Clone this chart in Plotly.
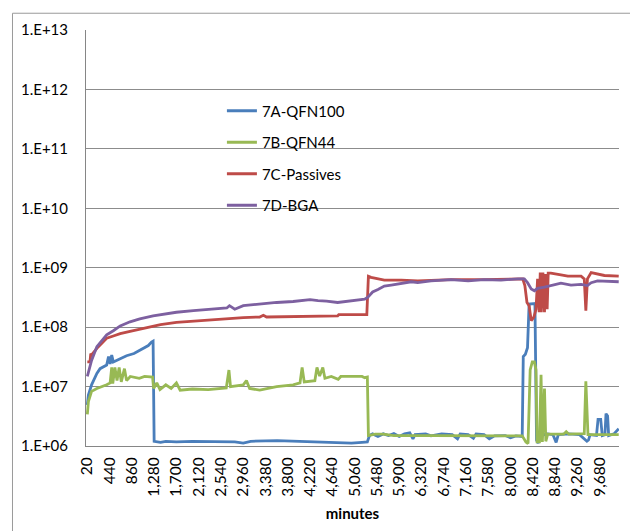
import plotly.graph_objects as go

# ---------------- data ----------------
min_a = [20, 40, 100, 200, 260, 385, 420, 450, 480, 510, 640, 760, 900, 1010, 1100, 1170, 1230, 1260,
         1280, 1400, 1500, 1700, 2000, 2400, 2800, 2960, 3100, 3600, 4000, 4400, 4700, 5000, 5200, 5300,
         5340, 5400, 5500, 5600, 5700, 5800, 5900, 6000, 6100, 6160, 6200, 6400, 6500, 6700, 6900, 7000,
         7050, 7200, 7300, 7350, 7500, 7600, 7700, 7900, 8000, 8100, 8220, 8240, 8280, 8320, 8350, 8460,
         8490, 8520, 8560, 8700, 8800, 8860, 8900, 9100, 9300, 9440, 9470, 9500, 9620, 9650, 9700, 9730,
         9780, 9800, 9830, 9850, 9950, 10040]
val_a = [4.9e6, 7.2e6, 1.07e7, 1.66e7, 2.0e7, 2.3e7, 3.2e7, 2.4e7, 3.4e7, 2.6e7, 2.95e7, 3.3e7, 3.6e7, 4.1e7, 4.6e7, 4.9e7, 5.6e7, 5.8e7,
         1.2e6, 1.15e6, 1.2e6, 1.17e6, 1.2e6, 1.2e6, 1.17e6, 1.12e6, 1.2e6, 1.23e6, 1.2e6, 1.17e6, 1.12e6, 1.12e6, 1.15e6, 1.17e6,
         1.5e6, 1.6e6, 1.45e6, 1.6e6, 1.5e6, 1.62e6, 1.45e6, 1.6e6, 1.66e6, 1.32e6, 1.55e6, 1.6e6, 1.48e6, 1.6e6, 1.55e6, 1.32e6,
         1.6e6, 1.55e6, 1.35e6, 1.6e6, 1.55e6, 1.32e6, 1.48e6, 1.5e6, 1.38e6, 1.48e6, 1.45e6, 3.2e7, 3.5e7, 4.5e7, 2.45e8, 2.5e8,
         1.26e6, 1.12e6, 1.5e6, 1.6e6, 1.55e6, 1.15e6, 1.55e6, 1.6e6, 1.55e6, 1.2e6, 1.26e6, 1.55e6, 1.5e6, 2.8e6, 2.8e6, 1.5e6,
         1.55e6, 3.5e6, 3.2e6, 1.5e6, 1.6e6, 1.95e6]

min_b = [20, 30, 40, 100, 200, 385, 450, 480, 500, 540, 580, 620, 660, 720, 760, 830, 1000, 1100, 1250,
         1270, 1330, 1390, 1500, 1600, 1700, 1770, 2000, 2300, 2500, 2640, 2690, 2720, 2960, 3020, 3080,
         3270, 3590, 3900, 4030, 4070, 4110, 4310, 4350, 4400, 4460, 4500, 4620, 4750, 4800, 5200, 5250,
         5300, 5320, 5450, 5600, 5800, 6500, 7500, 8220, 8290, 8330, 8370, 8410, 8450, 8480, 8500, 8545,
         8575, 8600, 8640, 8665, 8700, 9000, 9050, 9100, 9390, 9420, 9460, 9700, 10040]
val_b = [3.4e6, 5.0e6, 5.6e6, 8.3e6, 9.3e6, 1.07e7, 1.15e7, 2.1e7, 1.12e7, 2.1e7, 1.26e7, 2.1e7, 1.2e7, 2.0e7, 1.26e7, 1.48e7, 1.38e7, 1.48e7, 1.45e7,
         9.3e6, 1.15e7, 8.9e6, 1.07e7, 9.3e6, 1.15e7, 8.7e6, 9.1e6, 8.9e6, 9.3e6, 9.5e6, 1.9e7, 1.0e7, 1.07e7, 1.26e7, 9.3e6,
         8.7e6, 1.0e7, 1.07e7, 1.15e7, 2.1e7, 1.2e7, 1.26e7, 2.1e7, 1.5e7, 2.1e7, 1.38e7, 1.48e7, 1.32e7, 1.48e7, 1.48e7, 1.41e7,
         1.45e7, 1.5e6, 1.58e6, 1.58e6, 1.5e6, 1.5e6, 1.48e6, 1.48e6, 1.17e6, 1.1e6, 1.9e7, 2.6e7, 2.6e7, 1.9e7, 1.17e6, 1.17e6,
         1.58e7, 1.17e6, 9.3e6, 1.2e6, 1.58e6, 1.58e6, 1.74e6, 1.58e6, 1.62e6, 1.23e7, 1.55e6, 1.55e6, 1.55e6]

min_c = [20, 70, 85, 100, 200, 290, 385, 510, 640, 825, 1010, 1260, 1400, 1700, 2000, 2330, 2650, 2960,
         3270, 3340, 3400, 3900, 4370, 4740, 4760, 5290, 5320, 5370, 5620, 5940, 6250, 6880, 7500, 8140,
         8230, 8270, 8310, 8350, 8390, 8440, 8480, 8510, 8540, 8560, 8580, 8610, 8640, 8660, 8690, 8710,
         8760, 8950, 9080, 9330, 9390, 9420, 9450, 9520, 9640, 9770, 10040]
val_c = [2.6e7, 2.6e7, 3.6e7, 3.4e7, 4.4e7, 5.4e7, 6.5e7, 7.1e7, 7.8e7, 8.5e7, 9.3e7, 1.05e8, 1.1e8, 1.2e8, 1.26e8, 1.32e8, 1.38e8, 1.45e8,
         1.48e8, 1.58e8, 1.48e8, 1.51e8, 1.55e8, 1.55e8, 1.62e8, 1.62e8, 7.2e8, 6.9e8, 6.2e8, 6.2e8, 6.0e8, 6.3e8, 6.3e8, 6.5e8,
         6.5e8, 5.0e8, 2.6e8, 2.3e8, 1.29e8, 1.48e8, 2.0e8, 6.5e8, 1.78e8, 8.3e8, 1.78e8, 8.3e8, 1.78e8, 7.8e8, 2.0e8, 8.1e8,
         8.1e8, 7.6e8, 7.2e8, 7.2e8, 6.5e8, 1.9e8, 6.5e8, 8.3e8, 7.8e8, 7.4e8, 7.2e8]

min_d = [20, 40, 100, 200, 290, 385, 510, 640, 825, 1010, 1260, 1515, 1700, 2020, 2330, 2650, 2700, 2800,
         2960, 3270, 3590, 3900, 4220, 4370, 4530, 4740, 5000, 5250, 5310, 5400, 5500, 5620, 5750, 5940,
         6130, 6250, 6500, 6880, 7200, 7500, 7820, 8140, 8260, 8320, 8390, 8450, 8510, 8640, 8760, 8950,
         9140, 9330, 9450, 9520, 9640, 10040]
val_d = [1.48e7, 1.78e7, 2.75e7, 4.7e7, 6.0e7, 7.4e7, 8.7e7, 1.05e8, 1.23e8, 1.38e8, 1.55e8, 1.7e8, 1.78e8, 1.9e8, 2.0e8, 2.1e8, 2.3e8, 2.0e8,
         2.3e8, 2.45e8, 2.6e8, 2.7e8, 2.9e8, 2.8e8, 2.75e8, 2.6e8, 2.8e8, 2.95e8, 3.2e8, 3.9e8, 4.3e8, 4.9e8, 5.1e8, 5.5e8,
         5.8e8, 5.6e8, 6.0e8, 6.3e8, 6.0e8, 6.3e8, 6.2e8, 6.5e8, 6.5e8, 5.6e8, 4.4e8, 4.1e8, 4.5e8, 4.7e8, 5.0e8, 5.5e8,
         5.1e8, 5.25e8, 5.0e8, 5.6e8, 6.0e8, 5.8e8]

series_names = ["7A-QFN100", "7B-QFN44", "7C-Passives", "7D-BGA"]
series_colors = ["#4A7EBB", "#98B954", "#BE4B48", "#7D60A0"]

x_tick_vals = [20 + 420 * k for k in range(24)]
x_tick_text = [f"{v:,}" for v in x_tick_vals]
y_tick_vals = [1e6, 1e7, 1e8, 1e9, 1e10, 1e11, 1e12, 1e13]
y_tick_text = ["1.E+06", "1.E+07", "1.E+08", "1.E+09", "1.E+10", "1.E+11", "1.E+12", "1.E+13"]

# ---------------- figure ----------------
FONT = "Lato, 'Open Sans', sans-serif"
fig = go.Figure()
for name, color, xs, ys in zip(series_names, series_colors,
                               [min_a, min_b, min_c, min_d], [val_a, val_b, val_c, val_d]):
    fig.add_trace(go.Scatter(x=xs, y=ys, mode="lines", name=name, legendgroup=name,
                             line=dict(color=color, width=2.8)))

# the page body has an 8px default margin, so the figure is sized/offset to compensate
fig.update_layout(
    width=630, height=523,
    margin=dict(l=78, r=19, t=19, b=82),
    paper_bgcolor="white", plot_bgcolor="white",
    font=dict(family=FONT, size=15, color="#000000"),
    showlegend=True,
    legend=dict(x=0.255, y=0.845, xanchor="left", yanchor="top",
                bgcolor="rgba(0,0,0,0)", borderwidth=0,
                font=dict(family=FONT, size=15, color="#000000"),
                tracegroupgap=9, traceorder="grouped"),
    xaxis=dict(range=[-5, 10045], tickmode="array", tickvals=x_tick_vals, ticktext=x_tick_text,
               tickangle=-90, showgrid=False, zeroline=False, showline=True,
               linecolor="#868686", linewidth=1, ticks="", ticklabelstandoff=4,
               tickfont=dict(family=FONT, size=15.5),
               title=dict(text="<b>minutes</b>", font=dict(family=FONT, size=15), standoff=12)),
    yaxis=dict(type="log", range=[6, 13], tickmode="array", tickvals=y_tick_vals, ticktext=y_tick_text,
               showgrid=True, gridcolor="#8C8C8C", gridwidth=1, zeroline=False,
               showline=True, linecolor="#868686", linewidth=1, ticks="", ticklabelstandoff=14),
    shapes=[dict(type="rect", xref="paper", yref="paper", x0=-0.1379, x1=1.0338, y0=-0.21, y1=1.0403,
                 line=dict(color="#9A9A9A", width=1), fillcolor="rgba(0,0,0,0)", layer="below")],
)

fig.write_html("out.html")
